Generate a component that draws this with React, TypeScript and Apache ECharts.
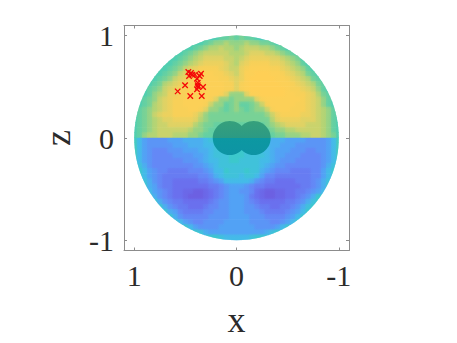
import React, { useEffect, useRef } from "react";
import * as echarts from "echarts";

const xTicks = [1, 0, -1];
const zTicks = [1, 0, -1];
const colorScale = ["#6c60e2", "#6a70ee", "#6488f6", "#52a2f5", "#44bbe8", "#3cc8cc", "#50ceb0", "#78d296", "#b4d474", "#e0d264", "#f8d058", "#ffcf55"];
const zRows = [0.975, 0.925, 0.875, 0.825, 0.775, 0.725, 0.675, 0.625, 0.575, 0.525, 0.475, 0.425, 0.375, 0.325, 0.275, 0.225, 0.175, 0.125, 0.075, 0.025,
  -0.025, -0.075, -0.125, -0.175, -0.225, -0.275, -0.325, -0.375, -0.425, -0.475, -0.525, -0.575, -0.625, -0.675, -0.725, -0.775, -0.825, -0.875, -0.925, -0.975];
const xCols = [1, 0.95, 0.9, 0.85, 0.8, 0.75, 0.7, 0.65, 0.6, 0.55, 0.5, 0.45, 0.4, 0.35, 0.3, 0.25, 0.2, 0.15, 0.1, 0.05, 0,
  -0.05, -0.1, -0.15, -0.2, -0.25, -0.3, -0.35, -0.4, -0.45, -0.5, -0.55, -0.6, -0.65, -0.7, -0.75, -0.8, -0.85, -0.9, -0.95, -1];

const fieldTop = [
  [1,1,1,1,1,1,1,1,1,1, 1,1,1,1,1,1,2,3,3,4, 3,4,3,3,2,1,1,1,1,1, 1,1,1,1,1,1,1,1,1,1,1],
  [2,2,2,2,2,2,2,2,2,2, 2,2,2,2,3,4,5,5,6,5, 5,5,6,5,5,4,4,3,2,2, 2,2,2,2,2,2,2,2,2,2,2],
  [2,2,2,2,2,2,2,2,2,2, 2,2,3,4,5,6,6,7,6,6, 5,6,7,7,7,6,6,5,4,3, 2,2,2,2,2,2,2,2,2,2,2],
  [2,2,2,2,2,2,2,2,2,2, 3,4,5,6,7,7,7,7,7,6, 6,6,7,8,8,8,7,7,6,5, 4,3,2,2,2,2,2,2,2,2,2],
  [2,2,2,2,2,2,2,2,2,3, 4,5,6,7,8,8,8,8,7,7, 6,7,8,9,9,9,9,8,8,7, 6,5,4,2,2,2,2,2,2,2,2],
  [2,2,2,2,2,2,2,2,3,4, 5,6,7,8,9,9,9,9,8,7, 6,8,9,10,10,10,10,9,9,8, 7,6,5,3,2,2,2,2,2,2,2],
  [2,2,2,2,2,2,2,3,4,5, 7,8,9,10,10,10,10,9,8,7, 7,9,10,11,11,11,11,10,10,9, 8,7,6,5,3,2,2,2,2,2,2],
  [2,2,2,2,2,2,3,4,5,7, 8,9,10,10,11,11,10,10,9,8, 7,9,11,11,12,12,12,11,11,10, 9,8,7,6,4,3,2,2,2,2,2],
  [2,2,2,2,2,3,4,5,7,8, 9,10,10,11,11,11,11,10,10,9, 8,9,11,12,12,12,12,12,11,11, 10,9,8,7,6,4,3,2,2,2,2],
  [2,2,2,2,3,4,6,7,8,9, 10,10,11,11,11,11,11,11,10,10, 8,10,11,12,12,12,12,12,12,11, 11,10,9,8,7,6,4,3,2,2,2],
  [2,2,2,3,4,5,7,8,9,10, 10,11,11,11,11,11,11,11,10,10, 8,10,11,12,12,12,12,12,12,12, 11,10,10,9,8,7,5,3,2,2,2],
  [2,2,2,3,5,6,7,9,9,10, 10,11,11,11,11,11,11,10,8,5, 5,5,8,11,11,12,12,12,12,12, 11,11,10,10,9,8,6,4,3,2,2],
  [2,2,3,4,5,7,8,9,10,10, 11,11,11,11,11,10,8,5,5,4, 5,5,5,5,8,10,11,11,11,11, 11,11,11,10,9,8,7,5,3,2,2],
  [2,2,3,4,6,7,8,9,10,10, 11,11,11,11,10,7,5,5,3,4, 5,3,3,4,5,7,10,11,11,11, 11,11,10,10,9,8,7,5,3,2,2],
  [2,3,4,5,6,7,8,9,10,10, 10,11,11,10,8,5,5,4,3,4, 5,4,3,4,5,5,7,10,11,11, 11,10,10,10,9,8,7,6,5,3,2],
  [2,3,4,5,7,8,9,9,10,10, 10,10,9,7,5,4,4,4,4,4, 4,4,4,4,4,4,5,7,9,10, 10,10,10,9,9,8,7,6,5,3,2],
  [2,3,4,5,6,7,8,8,9,9, 9,9,8,6,5,4,4,4,4,4, 4,4,4,4,4,4,4,6,8,9, 9,9,9,8,8,8,7,6,5,3,2],
  [2,3,4,5,6,7,7,8,8,8, 8,8,6,5,4,4,3,3,3,3, 3,3,3,3,3,3,4,5,6,7, 8,8,8,8,7,7,7,6,5,3,2],
  [2,3,4,5,6,7,7,7,7,7, 7,6,5,5,4,3,3,3,3,3, 3,3,3,3,3,3,3,4,5,5, 6,6,7,7,7,7,7,6,5,3,2],
  [2,3,5,6,6,7,7,7,6,6, 6,5,5,4,3,3,2,2,2,2, 2,2,2,2,2,3,3,3,4,4, 5,5,5,6,6,7,7,6,5,4,2],
];

const fieldBottom = [
  [1,-2,-4,-5,-5,-5,-5,-4,-4,-4, -3,-3,-3,-3,-2,-1,-1,0,0,0, 0,0,0,-1,-1,-1,-2,-3,-3,-3, -4,-4,-4,-4,-5,-5,-5,-5,-4,-2,1],
  [1,-2,-4,-5,-5,-5,-5,-5,-4,-4, -4,-3,-3,-3,-2,-2,-1,0,0,0, 0,0,0,-1,-1,-2,-2,-3,-3,-4, -4,-4,-5,-5,-5,-5,-5,-5,-4,-2,1],
  [1,-2,-4,-5,-6,-6,-6,-5,-5,-5, -4,-4,-4,-3,-3,-2,-1,-1,0,0, 0,0,-1,-1,-1,-2,-2,-3,-4,-4, -4,-5,-5,-5,-6,-6,-5,-5,-4,-2,1],
  [1,-2,-4,-5,-6,-6,-6,-6,-5,-5, -5,-5,-4,-4,-3,-2,-1,-1,-1,0, 0,0,-1,-1,-1,-1,-2,-3,-4,-4, -5,-5,-5,-6,-6,-6,-6,-5,-4,-2,1],
  [1,-2,-4,-5,-6,-6,-6,-6,-6,-6, -5,-5,-5,-4,-3,-2,-2,-1,-1,0, 0,-1,-1,-1,-1,-2,-2,-3,-4,-5, -5,-5,-6,-6,-6,-6,-6,-5,-4,-2,1],
  [1,-1,-3,-5,-6,-6,-6,-6,-6,-6, -6,-6,-5,-5,-4,-3,-2,-1,-1,-1, -1,-1,-1,-1,-1,-2,-3,-4,-5,-5, -6,-6,-6,-6,-6,-6,-6,-5,-3,-1,1],
  [0,0,-2,-4,-5,-6,-6,-7,-7,-7, -7,-6,-6,-6,-5,-4,-2,-2,0,-1, -1,-1,0,-1,-1,-3,-4,-5,-6,-6, -6,-7,-7,-7,-7,-6,-6,-4,-2,0,0],
  [0,0,-2,-4,-5,-6,-7,-7,-7,-7, -7,-7,-7,-6,-6,-5,-3,-2,-1,-1, -1,-2,-1,-1,-2,-4,-6,-6,-7,-7, -7,-7,-7,-7,-7,-6,-6,-4,-2,0,0],
  [0,0,-1,-3,-5,-6,-7,-7,-8,-8, -8,-8,-8,-7,-7,-6,-5,-4,-2,-2, -2,-2,-2,-3,-5,-6,-7,-7,-8,-8, -8,-8,-7,-7,-7,-6,-5,-3,-1,0,0],
  [0,0,0,-3,-4,-6,-7,-7,-8,-8, -8,-8,-8,-8,-8,-7,-7,-6,-5,-4, -4,-4,-5,-6,-7,-7,-8,-8,-8,-8, -8,-8,-8,-7,-7,-6,-5,-3,0,0,0],
  [0,0,0,-2,-4,-5,-6,-7,-8,-8, -9,-9,-10,-10,-9,-8,-7,-6,-5,-4, -4,-5,-5,-6,-8,-9,-10,-10,-9,-9, -8,-8,-7,-7,-6,-5,-4,-2,0,0,0],
  [0,0,0,0,-3,-5,-6,-7,-8,-8, -9,-10,-10,-10,-9,-8,-7,-6,-5,-4, -4,-4,-5,-7,-8,-9,-10,-10,-9,-9, -8,-8,-7,-6,-5,-3,0,0,0,0,0],
  [0,0,0,0,0,-3,-5,-6,-7,-7, -8,-8,-8,-8,-8,-7,-6,-5,-5,-4, -4,-4,-5,-6,-7,-8,-8,-8,-8,-8, -7,-7,-6,-5,-3,-1,0,0,0,0,0],
  [0,0,0,0,0,0,-3,-5,-6,-7, -7,-8,-8,-8,-7,-6,-6,-5,-5,-4, -4,-4,-5,-5,-6,-7,-7,-8,-8,-7, -7,-6,-5,-3,-1,0,0,0,0,0,0],
  [0,0,0,0,0,0,0,-3,-4,-6, -7,-7,-7,-7,-6,-6,-5,-5,-5,-4, -4,-4,-5,-5,-5,-6,-7,-7,-7,-7, -6,-5,-4,-2,0,0,0,0,0,0,0],
  [0,0,0,0,0,0,0,0,-3,-5, -6,-6,-6,-6,-6,-5,-5,-5,-5,-4, -4,-4,-4,-5,-5,-5,-6,-6,-6,-6, -5,-4,-2,0,0,0,0,0,0,0,0],
  [0,0,0,0,0,0,0,0,0,-2, -4,-5,-6,-6,-5,-5,-5,-5,-4,-4, -4,-4,-4,-5,-5,-5,-5,-6,-6,-5, -4,-2,0,0,0,0,0,0,0,0,0],
  [0,0,0,0,0,0,0,0,0,0, 0,-2,-4,-5,-5,-5,-5,-4,-4,-4, -4,-4,-4,-4,-5,-5,-5,-5,-4,-2, 0,0,0,0,0,0,0,0,0,0,0],
  [0,0,0,0,0,0,0,0,0,0, 0,0,0,-1,-3,-4,-4,-4,-4,-4, -4,-4,-4,-4,-4,-4,-3,-1,0,0, 0,0,0,0,0,0,0,0,0,0,0],
  [0,0,0,0,0,0,0,0,0,0, 0,0,0,0,0,0,0,-1,-2,-2, -2,-2,-2,-1,0,0,0,0,0,0, 0,0,0,0,0,0,0,0,0,0,0],
];

const cores = [[0.066, 0], [-0.168, 0]];
const crosses = [
  [0.471, 0.645], [0.432, 0.619], [0.464, 0.606], [0.406, 0.62], [0.347, 0.629], [0.36, 0.606], [0.386, 0.58], [0.445, 0.635],
  [0.379, 0.541], [0.379, 0.515], [0.376, 0.5], [0.327, 0.499], [0.386, 0.476], [0.503, 0.515], [0.575, 0.456], [0.452, 0.411], [0.34, 0.411],
];

const fieldRows = [...fieldTop, ...fieldBottom];
const SERIF = "'Liberation Serif', 'DejaVu Serif', serif";
const TEXT = "#2b2b2b";
const BOX = "#8c8c8c";
const shade = (v: number) => echarts.color.lerp((v + 10) / 22, colorScale);

function renderRow(params: any, api: any) {
  const idx = params.dataIndex;
  const z = zRows[idx];
  const row = fieldRows[idx];
  const h = 0.025;
  const left: number[][] = [];
  const right: number[][] = [];
  for (let k = 0; k <= 6; k++) {
    const ze = z + h - (2 * h * k) / 6;
    const w = Math.sqrt(Math.max(0, 1 - ze * ze));
    const a = api.coord([w, ze]);
    const b = api.coord([-w, ze]);
    if (k === 0) {
      a[1] -= 0.6;
      b[1] -= 0.6;
    }
    left.push(a);
    right.unshift(b);
  }
  const x0 = api.coord([1, z])[0];
  const x1 = api.coord([-1, z])[0];
  const stops = row.map((v: number, i: number) => ({ offset: i / (row.length - 1), color: shade(v) }));
  return {
    type: "polygon",
    shape: { points: [...left, ...right] },
    style: { fill: new echarts.graphic.LinearGradient(x0, 0, x1, 0, stops, true) },
  };
}

function renderCol(params: any, api: any) {
  const idx = params.dataIndex;
  const x = xCols[idx];
  const xa = Math.min(1, x + 0.025);
  const xb = Math.max(-1, x - 0.025);
  const top: number[][] = [];
  const bot: number[][] = [];
  for (let k = 0; k <= 6; k++) {
    const xe = xa + ((xb - xa) * k) / 6;
    const w = Math.sqrt(Math.max(0, 1 - xe * xe));
    top.push(api.coord([xe, w]));
    bot.unshift(api.coord([xe, -w]));
  }
  const y0 = api.coord([x, 1])[1];
  const y1 = api.coord([x, -1])[1];
  const stops: { offset: number; color: string }[] = [];
  zRows.forEach((z, i) => {
    if (z < 0 && zRows[i - 1] > 0) {
      stops.push({ offset: 0.5, color: shade(fieldRows[i - 1][idx]) });
      stops.push({ offset: 0.5, color: shade(fieldRows[i][idx]) });
    }
    stops.push({ offset: (1 - z) / 2, color: shade(fieldRows[i][idx]) });
  });
  return {
    type: "polygon",
    shape: { points: [...top, ...bot] },
    style: { fill: new echarts.graphic.LinearGradient(0, y0, 0, y1, stops, true), opacity: 0.5 },
  };
}

function makeAxis(position: string, inverse: boolean, ticks: number[], showLabels: boolean, extra: any) {
  return {
    type: "value",
    position,
    inverse,
    min: -1.1,
    max: 1.1,
    splitLine: { show: false },
    axisLine: { show: true, onZero: false, lineStyle: { color: BOX, width: 1 } },
    axisTick: { show: true, inside: true, length: 3, customValues: ticks, lineStyle: { color: BOX, width: 1 } },
    axisLabel: {
      show: showLabels,
      customValues: ticks,
      formatter: (v: number) => String(v),
      fontFamily: SERIF,
      fontSize: 30,
      color: TEXT,
      margin: 10,
      showMinLabel: true,
      showMaxLabel: true,
    },
    ...extra,
  };
}

export default function App() {
  const ref = useRef<HTMLDivElement>(null);
  useEffect(() => {
    const chart = echarts.init(ref.current!, undefined, { renderer: "svg" });
    chart.setOption({
      animation: false,
      backgroundColor: "#ffffff",
      grid: { left: 124, top: 25.5, width: 225, height: 225, outerBoundsMode: "none" },
      xAxis: [
        makeAxis("bottom", true, xTicks, true, {
          name: "x", nameLocation: "middle", nameGap: 51,
          nameTextStyle: { fontFamily: SERIF, fontSize: 36, color: TEXT },
        }),
        makeAxis("top", true, xTicks, false, {}),
      ],
      yAxis: [
        makeAxis("left", false, zTicks, true, {
          name: "z", nameLocation: "middle", nameGap: 48, nameRotate: 90,
          nameTextStyle: { fontFamily: SERIF, fontSize: 36, color: TEXT },
        }),
        makeAxis("right", false, zTicks, false, {}),
      ],
      series: [
        {
          type: "custom",
          coordinateSystem: "cartesian2d",
          clip: false,
          silent: true,
          z: 1,
          data: zRows.map((z) => [0, z]),
          encode: { x: 0, y: 1 },
          renderItem: renderRow,
        },
        {
          type: "custom",
          coordinateSystem: "cartesian2d",
          clip: false,
          silent: true,
          z: 1.5,
          data: xCols.map((x) => [x, 0]),
          encode: { x: 0, y: 1 },
          renderItem: renderCol,
        },
        {
          type: "scatter",
          silent: true,
          z: 2,
          symbol: "circle",
          symbolSize: 34,
          data: cores,
          itemStyle: {
            opacity: 1,
            color: new echarts.graphic.LinearGradient(0, 0, 0, 1, [
              { offset: 0, color: "#36a07c" },
              { offset: 0.5, color: "#2c9a84" },
              { offset: 0.5, color: "#0c98a2" },
              { offset: 1, color: "#0e94a4" },
            ]),
          },
        },
        {
          type: "scatter",
          silent: true,
          z: 3,
          symbol: "path://M0 0L10 10M10 0L0 10",
          symbolSize: 5.5,
          data: crosses,
          itemStyle: { color: "none", opacity: 1, borderColor: "#f40808", borderWidth: 1.3 },
        },
      ],
    });
    return () => chart.dispose();
  }, []);
  return <div ref={ref} style={{ position: "fixed", left: 0, top: 0, width: 457, height: 343 }} />;
}
